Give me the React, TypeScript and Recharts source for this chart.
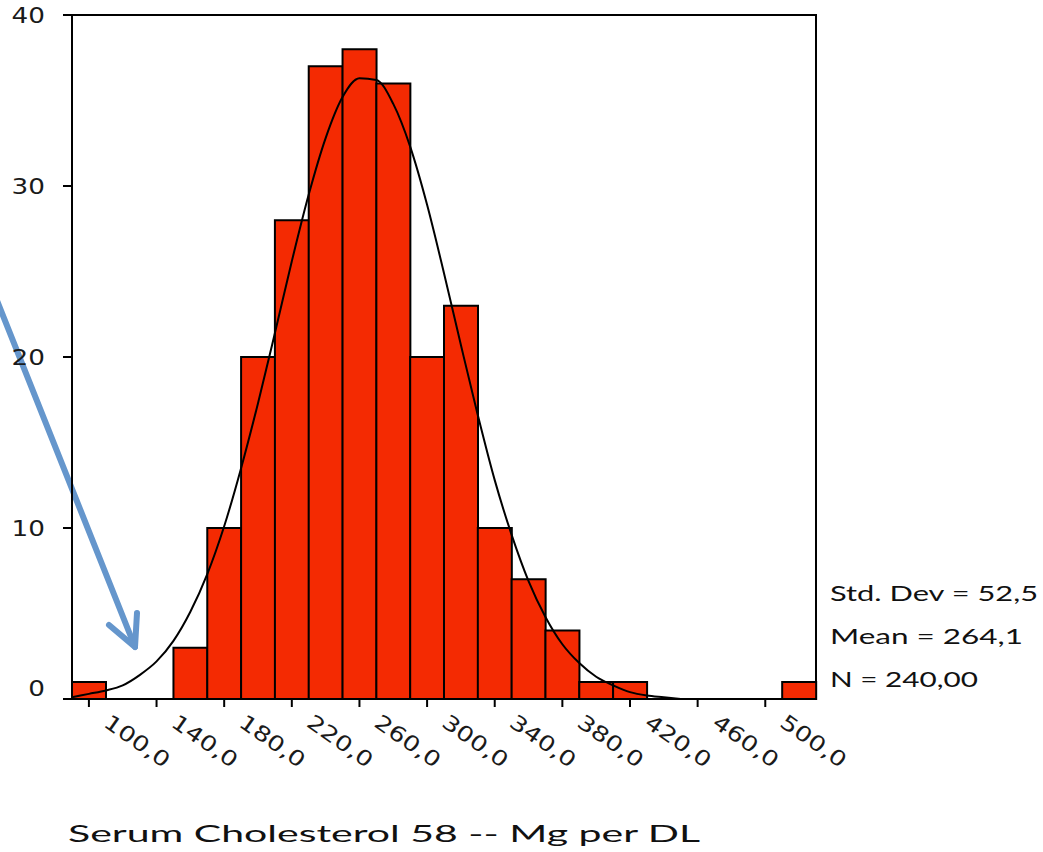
import React from 'react';
import {
  ComposedChart,
  Bar,
  Line,
  XAxis,
  YAxis,
  ReferenceArea,
  Customized,
} from 'recharts';

// bin midpoints (width 20) and counts per bin
const binCenters = [100, 120, 140, 160, 180, 200, 220, 240, 260, 280, 300, 320, 340, 360, 380, 400, 420, 440, 460, 480, 500, 520];
const binCounts = [1, 0, 0, 3, 10, 20, 28, 37, 38, 36, 20, 23, 10, 7, 4, 1, 1, 0, 0, 0, 0, 1];

// normal curve
const curveX = [90, 100, 110, 120, 130, 140, 150, 160, 170, 180, 190, 200, 210, 220, 230, 240, 250, 260, 270, 280, 290, 300, 310, 320, 330, 340, 350, 360, 370, 380, 390, 400, 410, 420, 430, 440, 450];
const curveY = [0.1, 0.3, 0.5, 0.8, 1.4, 2.2, 3.4, 5.1, 7.3, 10.1, 13.5, 17.3, 21.4, 25.6, 29.5, 32.8, 35.2, 36.3, 36.2, 34.8, 32.3, 28.9, 24.9, 20.7, 16.6, 12.8, 9.6, 6.9, 4.8, 3.2, 2.1, 1.3, 0.8, 0.4, 0.2, 0.1, 0];

const yTicks = [0, 10, 20, 30, 40];
const statLines = ['Std. Dev = 52,5', 'Mean = 264,1', 'N = 240,00'];
const axisTitle = 'Serum  Cholesterol 58 -- Mg per DL';

const bins = binCenters.map((bin, i) => ({ bin, count: binCounts[i] }));
const curve = curveX.map((x, i) => ({ x, density: curveY[i] }));

const tickFont = '"DejaVu Sans", Verdana, sans-serif';
const textFont = 'Lato, "Open Sans", sans-serif';

// SPSS-style labels are drawn a bit wide, so stretch them horizontally
const XTick = (props: any) => {
  const { x, y, payload } = props;
  const label = Number(payload.value).toFixed(1).replace('.', ',');
  return (
    <g transform={`translate(${x + 22},${y + 4}) rotate(35) scale(1.25,1)`}>
      <text x={0} y={0} dy="0.72em" textAnchor="start" fontSize={21} fontFamily={tickFont} fill="#1a1a1a">
        {label}
      </text>
    </g>
  );
};

const YTick = (props: any) => {
  const { x, y, payload } = props;
  const shift = payload.value === 0 ? -11 : 0;
  return (
    <g transform={`translate(${x},${y + shift}) scale(1.25,1)`}>
      <text x={0} y={0} dy="0.36em" textAnchor="end" fontSize={21} fontFamily={tickFont} fill="#1a1a1a">
        {payload.value}
      </text>
    </g>
  );
};

const statWidths = [208, 193, 148];

const Notes = () => (
  <g>
    {statLines.map((s, i) => (
      <text key={s} x={830} y={601 + i * 43} fontSize={21} fontFamily={textFont} fill="#111"
        textLength={statWidths[i]} lengthAdjust="spacingAndGlyphs">
        {s}
      </text>
    ))}
    <text x={68} y={842} fontSize={24} fontFamily={textFont} fill="#111" textLength={632} lengthAdjust="spacingAndGlyphs">
      {axisTitle}
    </text>
    <g stroke="#6596cc" strokeWidth={6} strokeLinecap="round" fill="none">
      <line x1={-10} y1={283} x2={135} y2={647} />
      <polyline points="109,625 135,647 137,613" strokeLinejoin="round" />
    </g>
  </g>
);

export default function App() {
  return (
    <div style={{ position: 'absolute', left: 0, top: 0, width: 1043, height: 852, overflow: 'hidden', background: '#fff' }}>
      <ComposedChart
        width={1043}
        height={852}
        data={bins}
        margin={{ top: 15, right: 227, bottom: 0, left: 0 }}
        barCategoryGap={0}
        barGap={0}
      >
        <XAxis
          dataKey="bin"
          type="category"
          interval={1}
          height={153}
          tick={<XTick />}
          tickSize={8}
          tickLine={{ stroke: '#000', strokeWidth: 2 }}
          axisLine={{ stroke: '#000', strokeWidth: 2 }}
        />
        <XAxis xAxisId="curve" dataKey="x" type="number" domain={[90, 530]} hide />
        <YAxis
          domain={[0, 40]}
          ticks={yTicks}
          width={72}
          tick={<YTick />}
          tickSize={9}
          tickMargin={18}
          tickLine={{ stroke: '#000', strokeWidth: 2 }}
          axisLine={{ stroke: '#000', strokeWidth: 2 }}
        />
        <ReferenceArea y1={0} y2={40} fill="none" stroke="#000" strokeWidth={2} ifOverflow="visible" />
        <Bar dataKey="count" fill="#f42a02" stroke="#000" strokeWidth={2} isAnimationActive={false} />
        <Line
          xAxisId="curve"
          data={curve}
          dataKey="density"
          type="monotone"
          stroke="#000"
          strokeWidth={2}
          dot={false}
          isAnimationActive={false}
        />
        <Customized component={Notes} />
      </ComposedChart>
    </div>
  );
}
